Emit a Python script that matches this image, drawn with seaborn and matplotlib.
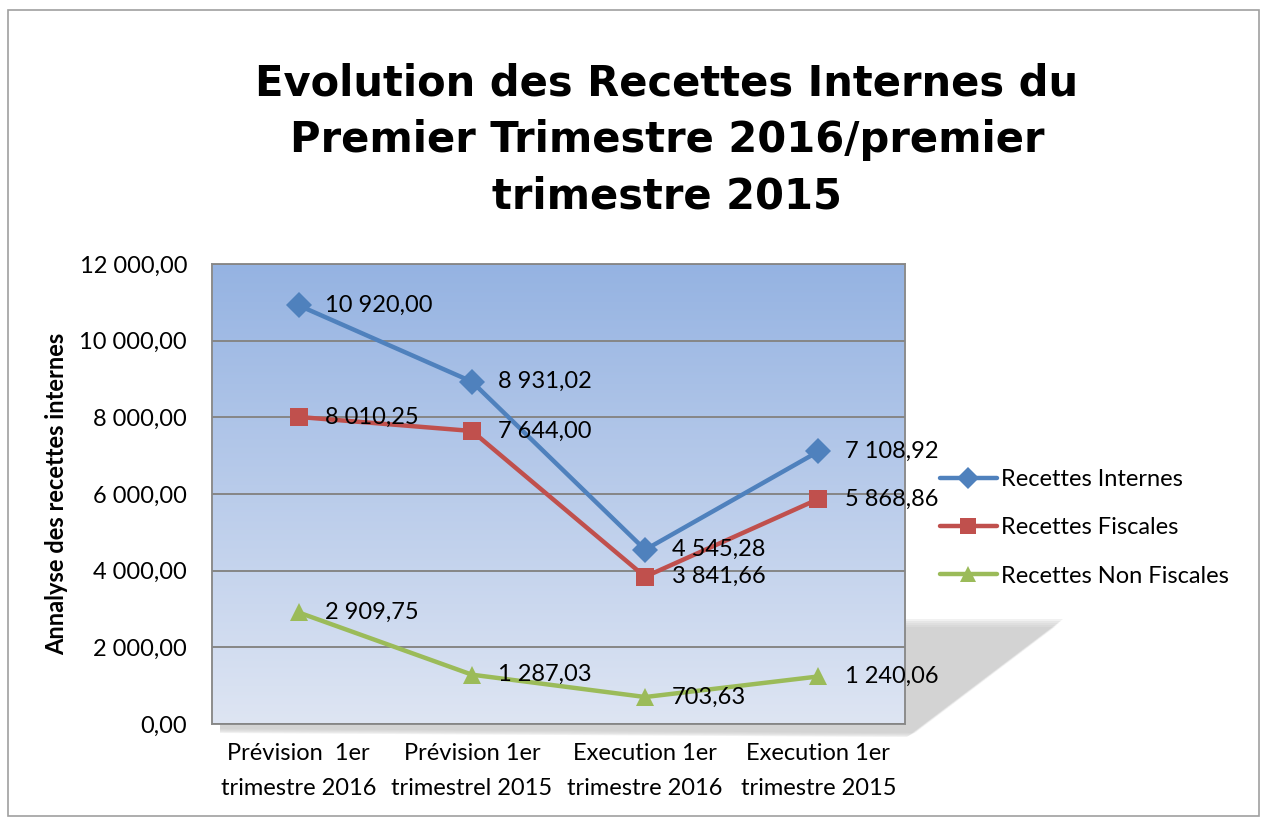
import numpy as np
import pandas as pd
import matplotlib
matplotlib.use("Agg")
import matplotlib.pyplot as plt
import seaborn as sns
from matplotlib.patches import Polygon, Rectangle

categories = ["Prévision  1er\ntrimestre 2016", "Prévision 1er\ntrimestrel 2015",
              "Execution 1er\ntrimestre 2016", "Execution 1er\ntrimestre 2015"]
recettes_internes = [10920.00, 8931.02, 4545.28, 7108.92]
recettes_fiscales = [8010.25, 7644.00, 3841.66, 5868.86]
recettes_non_fiscales = [2909.75, 1287.03, 703.63, 1240.06]
series_names = ["Recettes Internes", "Recettes Fiscales", "Recettes Non Fiscales"]
colors = ["#4F81BD", "#C0504D", "#9BBB59"]
markers = ["D", "s", "^"]

W, H = 1261, 817
FS = 17


def fx(px):
    return px / W


def fy(py):
    return 1 - py / H


def fmt(v):
    return f"{v:,.2f}".replace(",", " ").replace(".", ",")


rows = []
for name, vals in zip(series_names, [recettes_internes, recettes_fiscales, recettes_non_fiscales]):
    for i, v in enumerate(vals):
        rows.append({"pos": i, "valeur": v, "serie": name})
df = pd.DataFrame(rows)

sns.set_style("white")
plt.rcParams["font.family"] = ["Lato", "DejaVu Sans"]
plt.rcParams["text.color"] = "black"
plt.rcParams["xtick.color"] = "black"
plt.rcParams["ytick.color"] = "black"
plt.rcParams["axes.labelcolor"] = "black"

fig = plt.figure(figsize=(W / 100, H / 100), dpi=100)
fig.patch.set_facecolor("white")

# outer border
fig.add_artist(Rectangle((fx(8), fy(816)), fx(1251), fy(10) - fy(816),
                         transform=fig.transFigure, fill=False, edgecolor="#A0A0A0", lw=1.2))

# soft shadow behind plot area
for k, a in enumerate([0.05, 0.06, 0.07, 0.09, 0.11]):
    g = 10 - 2 * k
    pts = [(905, 617 + g), (1065 - g, 617 + g), (905 + g, 738 - g / 2),
           (220, 734 - g / 2), (220, 724), (905, 724)]
    fig.add_artist(Polygon([(fx(x), fy(y)) for x, y in pts], closed=True,
                           transform=fig.transFigure, facecolor="#808080",
                           edgecolor="none", alpha=a, zorder=0))

ax = fig.add_axes([fx(212), fy(724), fx(905 - 212), (724 - 264) / H])

# gradient background
top = np.array([149, 179, 226]) / 255
bot = np.array([222, 229, 243]) / 255
t = np.linspace(0, 1, 256)[:, None]
grad = (top * (1 - t) + bot * t)[:, None, :]
ax.imshow(grad, extent=(-0.5, 3.5, 0, 12000), aspect="auto", zorder=0)

sns.lineplot(data=df, x="pos", y="valeur", hue="serie", style="serie",
             palette=colors, markers=markers, dashes=False, lw=3.2,
             markersize=13, markeredgewidth=0, ax=ax, zorder=3)

for name, vals, c in zip(series_names, [recettes_internes, recettes_fiscales, recettes_non_fiscales], colors):
    for i, v in enumerate(vals):
        ax.annotate(fmt(v), (i, v), xytext=(19, 0), textcoords="offset points",
                    ha="left", va="center", fontsize=FS, color="black", zorder=4)

ax.set_xlim(-0.5, 3.5)
ax.set_ylim(0, 12000)
ax.set_yticks(np.arange(0, 12001, 2000))
ax.set_yticklabels([fmt(v) for v in np.arange(0, 12001, 2000)], fontsize=FS)
ax.set_xticks(range(len(categories)))
ax.set_xticklabels(categories, fontsize=FS, linespacing=1.8)
ax.tick_params(axis="both", length=0)
ax.tick_params(axis="y", pad=18)
ax.tick_params(axis="x", pad=14)
ax.grid(axis="y", color="#868686", lw=1.4, zorder=1)
ax.set_axisbelow(False)
for s in ax.spines.values():
    s.set_color("#8C8C8C")
    s.set_linewidth(1.4)
ax.set_xlabel("")
ax.set_ylabel("Annalyse des recettes internes", fontsize=FS, fontweight="bold", labelpad=8)

handles, labels = ax.get_legend_handles_labels()
ax.legend_.remove()
fig.legend(handles, labels, loc="center left", bbox_to_anchor=(fx(940), fy(528)),
           frameon=False, fontsize=FS, handlelength=2.4, handletextpad=0.2,
           labelspacing=1.15, borderpad=0, borderaxespad=0, markerscale=0.85)

fig.text(fx(667), fy(140), "Evolution des Recettes Internes du\nPremier Trimestre 2016/premier\ntrimestre 2015",
         ha="center", va="center", fontsize=30, fontweight="heavy", color="black",
         family=["DejaVu Sans"], linespacing=1.45)

fig.savefig("out.png", dpi=100)
